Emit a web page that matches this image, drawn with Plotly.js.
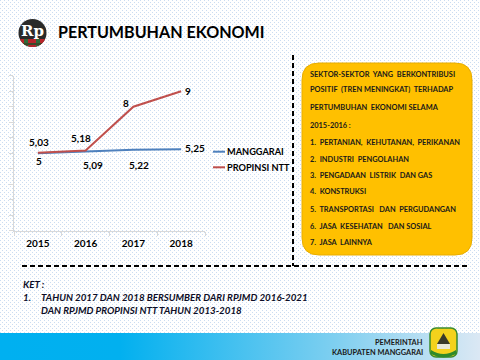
<!DOCTYPE html>
<html>
<head>
<meta charset="utf-8">
<script src="https://cdn.plot.ly/plotly-3.0.1.min.js"></script>
<style>html,body{margin:0;padding:0;background:#fff}#chart{width:480px;height:360px}</style>
</head>
<body>
<div id="chart"></div>
<script>
// ---- data ----
const years = ['2015', '2016', '2017', '2018'];
const manggarai = [5, 5.09, 5.22, 5.25];
const propinsiNTT = [5.03, 5.18, 8, 9];
const seriesNames = ['MANGGARAI', 'PROPINSI NTT'];
const titleText = 'PERTUMBUHAN EKONOMI';
const boxLines = [
  'SEKTOR-SEKTOR\u00a0 YANG\u00a0 BERKONTRIBUSI',
  'POSITIF\u00a0 (TREN MENINGKAT)\u00a0 TERHADAP',
  'PERTUMBUHAN\u00a0 EKONOMI SELAMA',
  '2015-2016 :',
  '1.\u00a0 PERTANIAN,\u00a0 KEHUTANAN,\u00a0 PERIKANAN',
  '2.\u00a0 INDUSTRI\u00a0 PENGOLAHAN',
  '3.\u00a0 PENGADAAN\u00a0 LISTRIK\u00a0 DAN GAS',
  '4.\u00a0 KONSTRUKSI',
  '5.\u00a0 TRANSPORTASI\u00a0\u00a0 DAN\u00a0 PERGUDANGAN',
  '6.\u00a0 JASA\u00a0 KESEHATAN\u00a0\u00a0 DAN SOSIAL',
  '7.\u00a0 JASA\u00a0 LAINNYA'
];
const ketTitle = 'KET :';
const ketNumber = '1.';
const ketLines = [
  'TAHUN 2017 DAN 2018 BERSUMBER DARI RPJMD 2016-2021',
  'DAN RPJMD PROPINSI NTT TAHUN 2013-2018'
];
const footerLines = ['PEMERINTAH', 'KABUPATEN MANGGARAI'];

// ---- styles / positions ----
const W = 480, H = 360;
const px = x => x / W;
const py = y => 1 - y / H;
const BLUE = '#4f81bd', RED = '#c0504d';
const FONT = 'Lato, "Open Sans", sans-serif';
// label offsets (pixels) for each point
const blueShift = [[1, -8], [7, -13], [6, -15], [14, 1]];
const redShift = [[1, 11], [-5, 12], [-7, 4], [7, 0]];
const boxLineY = [74.3, 89.7, 107.7, 125.7, 142.3, 159, 175, 191.7, 209, 226.3, 242.7];

const fmt = v => String(v).replace('.', ',');

const traces = [
  {x: years, y: manggarai, name: seriesNames[0], type: 'scatter', mode: 'lines',
   line: {color: BLUE, width: 2}, hoverinfo: 'skip'},
  {x: years, y: propinsiNTT, name: seriesNames[1], type: 'scatter', mode: 'lines',
   line: {color: RED, width: 2}, hoverinfo: 'skip'}
];

const annotations = [];
function pann(text, x, y, o) {
  annotations.push(Object.assign({
    text: text, x: px(x), y: py(y), xref: 'paper', yref: 'paper',
    xanchor: 'left', yanchor: 'middle', showarrow: false,
    font: {family: FONT, size: 10, color: '#000', weight: 700}
  }, o || {}));
}
const labelFont = {family: FONT, size: 10, color: '#000', weight: 700};
// data labels (category axis: x is the category's serial index)
manggarai.forEach((v, i) => annotations.push({
  x: years.indexOf(years[i]), y: v, xref: 'x', yref: 'y', text: fmt(v), showarrow: false,
  xshift: blueShift[i][0], yshift: blueShift[i][1], font: labelFont
}));
propinsiNTT.forEach((v, i) => annotations.push({
  x: years.indexOf(years[i]), y: v, xref: 'x', yref: 'y', text: fmt(v), showarrow: false,
  xshift: redShift[i][0], yshift: redShift[i][1], font: labelFont
}));
// legend text
const legFont = {family: FONT, size: 9.2, color: '#000', weight: 700};
pann(seriesNames[0], 225, 151.7, {font: legFont});
pann(seriesNames[1], 225, 167.3, {font: legFont});
// title
pann(titleText, 56, 31, {font: {family: FONT, size: 16.1, color: '#000', weight: 700}});
pann('Rp', 32.5, 31, {xanchor: 'center', font: {family: '"DejaVu Serif", "Liberation Serif", serif', size: 15, color: '#fff', weight: 700}});
// box text
boxLines.forEach((t, i) => pann(t, 308, boxLineY[i], {font: {family: FONT, size: 7.4, color: '#1a1a1a', weight: 700}}));
// KET
const ketFont = {family: FONT, size: 9.75, color: '#0d0d26', weight: 700, style: 'italic'};
pann(ketTitle, 21, 284, {font: ketFont});
pann(ketNumber, 21, 296.5, {font: ketFont});
pann(ketLines[0], 39, 296.5, {font: ketFont});
pann(ketLines[1], 39, 310, {font: ketFont});
// footer
const footFont = {family: FONT, size: 7.4, color: '#1a1a1a', weight: 700};
pann(footerLines[0], 425, 342, {xanchor: 'right', font: footFont});
pann(footerLines[1], 425, 352, {xanchor: 'right', font: footFont});

// rounded box path
function roundRect(x0, y0, x1, y1, r) {
  const P = (x, y) => px(x) + ',' + py(y);
  return 'M' + P(x0 + r, y0) + ' L' + P(x1 - r, y0) + ' Q' + P(x1, y0) + ' ' + P(x1, y0 + r) +
    ' L' + P(x1, y1 - r) + ' Q' + P(x1, y1) + ' ' + P(x1 - r, y1) +
    ' L' + P(x0 + r, y1) + ' Q' + P(x0, y1) + ' ' + P(x0, y1 - r) +
    ' L' + P(x0, y0 + r) + ' Q' + P(x0, y0) + ' ' + P(x0 + r, y0) + ' Z';
}
const shapes = [
  {type: 'path', xref: 'paper', yref: 'paper', path: roundRect(302, 63, 472, 255, 17),
   fillcolor: '#ffc000', line: {color: '#e8ad00', width: 1}, layer: 'above'},
  {type: 'line', xref: 'paper', yref: 'paper', x0: px(293), x1: px(293), y0: py(55), y1: py(266),
   line: {color: '#000', width: 2, dash: '5px,3px'}, layer: 'above'},
  {type: 'line', xref: 'paper', yref: 'paper', x0: px(22), x1: px(470), y0: py(266), y1: py(266),
   line: {color: '#000', width: 2, dash: '5px,3px'}, layer: 'above'},
  {type: 'line', xref: 'paper', yref: 'paper', x0: px(213), x1: px(225), y0: py(151.7), y1: py(151.7),
   line: {color: BLUE, width: 2}, layer: 'above'},
  {type: 'line', xref: 'paper', yref: 'paper', x0: px(213), x1: px(225), y0: py(167.3), y1: py(167.3),
   line: {color: RED, width: 2}, layer: 'above'}
];

// decorative background (dot pattern, footer gradient, logos)
const bgSvg =
  "<svg xmlns='http://www.w3.org/2000/svg' width='480' height='360' viewBox='0 0 480 360'>" +
  "<defs>" +
  "<pattern id='d' width='4' height='4' patternUnits='userSpaceOnUse'>" +
  "<rect width='1' height='1' fill='#cbdcf1'/><rect x='2' y='2' width='1' height='1' fill='#cbdcf1'/></pattern>" +
  "<linearGradient id='g' x1='0' x2='1' y1='0' y2='0'>" +
  "<stop offset='0' stop-color='#00b0f0'/><stop offset='0.25' stop-color='#02b0ef'/>" +
  "<stop offset='0.7' stop-color='#7fcff0'/><stop offset='1' stop-color='#dbe8f4'/></linearGradient>" +
  "<clipPath id='c'><circle cx='32.5' cy='33' r='14'/></clipPath>" +
  "</defs>" +
  "<rect width='480' height='360' fill='#ffffff'/>" +
  "<rect width='480' height='333' fill='url(#d)'/>" +
  "<rect y='333' width='480' height='27' fill='url(#g)'/>" +
  "<circle cx='32.5' cy='33' r='14' fill='#2a2a2a'/>" +
  "<g clip-path='url(#c)'><rect x='18' y='39' width='30' height='10' fill='#b8262b'/>" +
  "<rect x='24' y='39' width='4' height='10' fill='#2e6b3a'/><rect x='36' y='39' width='4' height='10' fill='#2e6b3a'/>" +
  "<rect x='18' y='43' width='30' height='2' fill='#3a4a2a'/></g>" +
  "<rect x='430' y='328' width='27' height='29' rx='6' fill='#f4d21c' stroke='#3a8a2e' stroke-width='1.5'/>" +
  "<polygon points='443.5,333 437,344 450,344' fill='#3a3a2a'/>" +
  "<rect x='437' y='344' width='13' height='5' fill='#e8e8d8'/>" +
  "<path d='M431,350 Q443.5,358 456,350 L456,354 Q443.5,361 431,354 Z' fill='#2f8a2a'/>" +
  "</svg>";

const layout = {
  width: W, height: H,
  margin: {l: 0, r: 0, t: 0, b: 0, pad: 0},
  paper_bgcolor: '#ffffff', plot_bgcolor: 'rgba(0,0,0,0)',
  showlegend: false,
  font: {family: FONT},
  xaxis: {
    type: 'category', domain: [px(14), px(205)], range: [-0.5, 3.5],
    showline: true, linecolor: '#d9d9d9', linewidth: 1,
    ticks: 'outside', tickson: 'boundaries', ticklen: 4, tickcolor: '#d9d9d9',
    ticklabelstandoff: 3,
    showgrid: false, zeroline: false,
    tickfont: {family: FONT, size: 10, color: '#000', weight: 700}
  },
  yaxis: {
    domain: [py(230.7), py(75.7)], range: [0, 10], dtick: 1,
    showline: true, linecolor: '#d9d9d9', linewidth: 1,
    ticks: 'outside', ticklen: 4, tickcolor: '#d9d9d9',
    showticklabels: false, showgrid: false, zeroline: false
  },
  images: [{
    source: 'data:image/svg+xml;charset=utf-8,' + encodeURIComponent(bgSvg),
    xref: 'paper', yref: 'paper', x: 0, y: 1, sizex: 1, sizey: 1,
    xanchor: 'left', yanchor: 'top', sizing: 'stretch', layer: 'below'
  }],
  shapes: shapes,
  annotations: annotations
};

Plotly.newPlot('chart', traces, layout, {staticPlot: true, displayModeBar: false});
</script>
</body>
</html>
